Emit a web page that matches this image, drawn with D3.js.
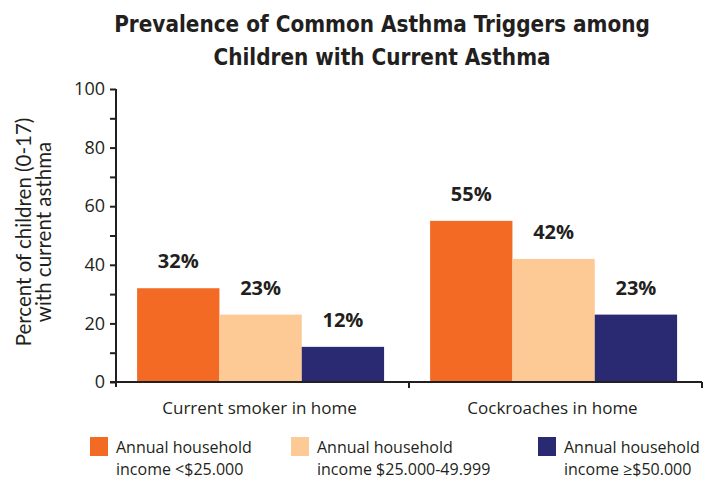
<!DOCTYPE html>
<html>
<head>
<meta charset="utf-8">
<script src="https://cdn.jsdelivr.net/npm/d3@7"></script>
<style>
  html, body { margin: 0; padding: 0; background: #fff; }
  svg { display: block; }
</style>
</head>
<body>
<svg id="chart" width="708" height="479"></svg>
<script>
// Data
const categories = ["Current smoker in home", "Cockroaches in home"];
const seriesKeys = ["low", "mid", "high"];
const lowIncome = [32, 55];
const midIncome = [23, 42];
const highIncome = [12, 23];
const legendLines = [
  ["Annual household", "income <$25.000"],
  ["Annual household", "income $25.000-49.999"],
  ["Annual household", "income \u2265$50.000"]
];
const majorTicks = [0, 20, 40, 60, 80, 100];
const minorTicks = [10, 30, 50, 70, 90];
const titleLines = ["Prevalence of Common Asthma Triggers among", "Children with Current Asthma"];
const yLabelLines = ["Percent of children (0-17)", "with current asthma"];

const colors = { low: "#f36a24", mid: "#fdca96", high: "#2a2a72" };
const ink = "#231f20";

const values = { low: lowIncome, mid: midIncome, high: highIncome };

const svg = d3.select("#chart");

const plotLeft = 116, plotRight = 702, plotTop = 89, plotBottom = 382;

const y = d3.scaleLinear().domain([0, 100]).range([plotBottom, plotTop]);
const x0 = d3.scaleBand().domain(categories).range([plotLeft, plotRight]).padding(0);
const x1 = d3.scaleBand().domain(seriesKeys)
  .range([x0.bandwidth() * 0.072, x0.bandwidth() * 0.915]).padding(0);

// Title
svg.append("g").selectAll("text").data(titleLines).join("text")
  .attr("x", 382).attr("y", (d, i) => 32 + i * 32.5)
  .attr("text-anchor", "middle")
  .style("font-family", "'DejaVu Sans Condensed', 'DejaVu Sans', sans-serif")
  .style("font-weight", "bold").style("font-size", "22.3px")
  .style("fill", ink)
  .text(d => d);

// Bars
const groups = svg.append("g").selectAll("g").data(categories).join("g")
  .attr("transform", d => `translate(${x0(d)},0)`);

groups.selectAll("rect")
  .data((c, ci) => seriesKeys.map(k => ({ key: k, v: values[k][ci] })))
  .join("rect")
  .attr("x", d => x1(d.key))
  .attr("width", x1.bandwidth())
  .attr("y", d => y(d.v))
  .attr("height", d => y(0) - y(d.v))
  .attr("fill", d => colors[d.key]);

groups.selectAll("text.val")
  .data((c, ci) => seriesKeys.map(k => ({ key: k, v: values[k][ci] })))
  .join("text").attr("class", "val")
  .attr("x", d => x1(d.key) + x1.bandwidth() / 2)
  .attr("y", d => y(d.v) - 20)
  .attr("text-anchor", "middle")
  .style("font-family", "'Open Sans', sans-serif")
  .style("font-weight", "bold").style("font-size", "20px")
  .style("fill", ink)
  .text(d => d.v + "%");

// Y axis
const yAxis = d3.axisLeft(y).tickValues(majorTicks.concat(minorTicks))
  .tickSize(6).tickFormat(d => majorTicks.includes(d) ? d : "");
const gy = svg.append("g").attr("transform", `translate(${plotLeft},0)`).call(yAxis);
gy.select(".domain").remove();
gy.append("line").attr("x1", 0).attr("x2", 0).attr("y1", plotTop).attr("y2", plotBottom + 5)
  .attr("stroke", ink).attr("stroke-width", 2);
gy.selectAll(".tick line").attr("stroke", ink).attr("stroke-width", 2);
gy.selectAll(".tick text")
  .attr("x", -11)
  .style("font-family", "'Open Sans', sans-serif").style("font-size", "18px")
  .style("fill", ink);

// X axis
const gx = svg.append("g").attr("transform", `translate(0,${plotBottom})`);
gx.append("line").attr("x1", plotLeft - 6).attr("x2", plotRight).attr("y1", 0).attr("y2", 0)
  .attr("stroke", ink).attr("stroke-width", 2);
const boundaries = [x0(categories[1]), plotRight];
gx.selectAll("line.b").data(boundaries).join("line").attr("class", "b")
  .attr("x1", d => d).attr("x2", d => d).attr("y1", 0).attr("y2", 6)
  .attr("stroke", ink).attr("stroke-width", 2);
gx.selectAll("text").data(categories).join("text")
  .attr("x", d => x0(d) + x0.bandwidth() / 2 - 3)
  .attr("y", 32)
  .attr("text-anchor", "middle")
  .style("font-family", "'Open Sans', sans-serif").style("font-size", "17px")
  .style("fill", ink)
  .text(d => d);

// Y axis title
const yl = svg.append("text")
  .attr("transform", "translate(0,232) rotate(-90)")
  .attr("text-anchor", "middle")
  .style("font-family", "Lato, sans-serif").style("font-size", "20.5px")
  .style("fill", ink);
yl.selectAll("tspan").data(yLabelLines).join("tspan")
  .attr("x", 0).attr("y", (d, i) => 31 + i * 20)
  .text(d => d);

// Legend
const legendX = [90, 291, 538];
const lg = svg.append("g").selectAll("g").data(seriesKeys).join("g")
  .attr("transform", (d, i) => `translate(${legendX[i]},437)`);
lg.append("rect").attr("width", 18).attr("height", 19).attr("fill", d => colors[d]);
lg.append("text")
  .style("font-family", "'Open Sans', sans-serif").style("font-size", "16px")
  .style("fill", ink)
  .selectAll("tspan").data((d, i) => legendLines[i]).join("tspan")
  .attr("x", 26).attr("y", (d, i) => 16 + i * 22)
  .text(d => d);
</script>
</body>
</html>
